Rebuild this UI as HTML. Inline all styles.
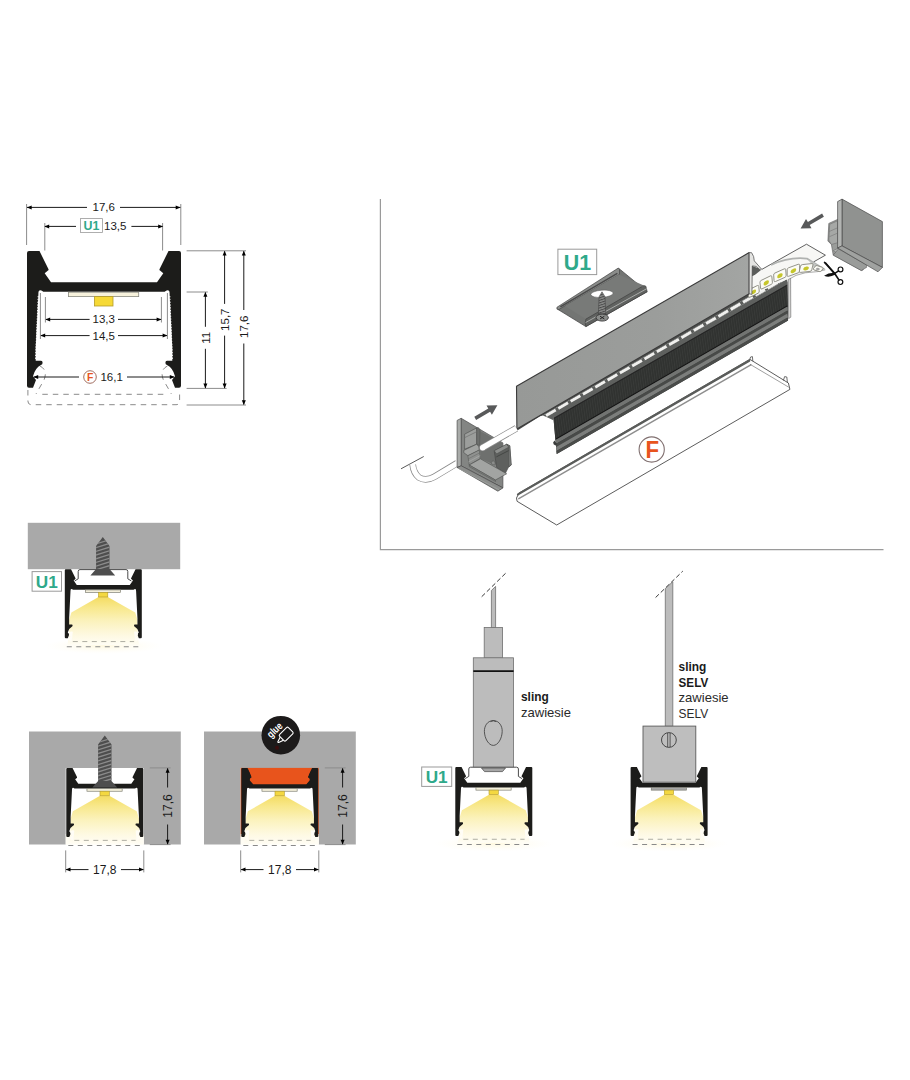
<!DOCTYPE html>
<html><head><meta charset="utf-8">
<style>
html,body{margin:0;padding:0;background:#fff;}
svg{display:block;font-family:"Liberation Sans",sans-serif;}
.d{font-size:11.5px;fill:#1a1a1a;}
.dl{stroke:#1a1a1a;stroke-width:1;fill:none;}
.ex{stroke:#8c8c8c;stroke-width:1;fill:none;}
.ds{stroke:#8a8a8a;stroke-width:1;fill:none;stroke-dasharray:5.5 5;}
.d2{font-size:12px;fill:#1a1a1a;}
.u1{font-weight:bold;fill:#2fa98a;}
</style></head><body>
<svg width="910" height="1080" viewBox="0 0 910 1080">
<defs>
<path id="prof" d="M0,2 Q0,0 2,0 L12.5,0 L21.4,18 Q21.9,19 21,19.6 L17.7,22.3 L24,31.3 L130,31.3 L136.3,22.3 L133,19.6 Q132.1,19 132.6,18 L141.5,0 L152,0 Q154,0 154,2 L154,134.7 Q154,136.7 152,136.7 L148,136.7 L145,129 L148,125.3 Q146,117 140,114 Q138.4,113.7 138.4,111.7 Q138.4,109.7 140,109.7 L145.3,109.7 L145.3,97 L142.6,43 Q142.8,39 140.5,39.2 Q139,39.5 137.7,40.7 L16.3,40.7 Q15,39.5 13.5,39.2 Q11.2,39 11.4,43 L8.7,97 L8.7,109.7 L14,109.7 Q15.6,109.7 15.6,111.7 Q15.6,113.7 14,114 Q8,117 6,125.3 L9,129 L6,136.7 L2,136.7 Q0,136.7 0,134.7 Z"/>
<path id="ah" d="M0,0 L4.8,-2 L4.8,2 Z"/>
<linearGradient id="beam" x1="0" y1="0" x2="0" y2="1">
<stop offset="0" stop-color="#f4dc62"/><stop offset="0.22" stop-color="#f8e88c"/><stop offset="0.5" stop-color="#fbf2bc"/><stop offset="0.8" stop-color="#fef9e2"/><stop offset="1" stop-color="#fffdf4"/>
</linearGradient>
<linearGradient id="plateg" x1="0" y1="0" x2="1" y2="0"><stop offset="0" stop-color="#979997"/><stop offset="0.6" stop-color="#9b9d9b"/><stop offset="1" stop-color="#a3a5a3"/></linearGradient>
<pattern id="ribs" width="2.4" height="8" patternUnits="userSpaceOnUse" patternTransform="rotate(-8)"><rect width="2.4" height="8" fill="#303230"/><rect width="0.9" height="8" fill="#393b39"/></pattern>
<pattern id="thr" width="8" height="2.4" patternUnits="userSpaceOnUse" patternTransform="rotate(-18)"><rect width="8" height="2.4" fill="#8a8c8a"/><rect width="8" height="1" fill="#4a4a4a"/></pattern>
<radialGradient id="glow"><stop offset="0" stop-color="#fff8dc" stop-opacity="0.9"/><stop offset="1" stop-color="#fffdf3" stop-opacity="0"/></radialGradient>
</defs>
<rect width="910" height="1080" fill="#fff"/>

<!-- ===== MAIN CROSS SECTION ===== -->
<g id="main">
<use href="#prof" x="27" y="251" fill="#1c1c1a"/>
<rect x="68.4" y="292.2" width="70.3" height="4.4" fill="#f7f2dc" stroke="#8a8a80" stroke-width="0.8"/>
<rect x="94.4" y="296.6" width="18.6" height="9.4" fill="#f6d936" stroke="#b39b2a" stroke-width="0.8"/>
<path d="M38.2,296 L35.5,359 M169.8,296 L172.5,359" stroke="#fff" stroke-width="1" stroke-dasharray="1.3 1.5" fill="none"/>
<!-- dashed cover -->
<path class="ds" d="M27.9,390 L27.9,401 Q27.9,404.7 31.5,404.7 L176,404.7 Q179.6,404.7 179.6,401 L179.6,390"/>
<path class="ds" d="M42.3,394.3 L166,394.3"/>
<path class="ds" d="M40,366 Q48,370 44,380 L36,394" stroke-dasharray="3.5 3"/>
<path class="ds" d="M167.4,366 Q159.4,370 163.4,380 L171.4,394" stroke-dasharray="3.5 3"/>
<!-- ext lines top -->
<path class="ex" d="M26.6,204 V245 M180.8,204 V245 M44.8,223 V250.5 M162.6,223 V250.5"/>
<path class="ex" d="M45.4,297 V322.5 M161.4,297 V322.5 M40.4,293 V339 M167.4,293 V339"/>
<!-- dims horizontal -->
<path class="dl" d="M27,207.4 H87 M120,207.4 H180.4"/>
<use href="#ah" x="26.9" y="207.4"/><use href="#ah" transform="translate(180.5,207.4) scale(-1,1)"/>
<text class="d" x="103.7" y="211.3" text-anchor="middle">17,6</text>
<path class="dl" d="M45,226.4 H76 M131.4,226.4 H162.6"/>
<use href="#ah" x="44.4" y="226.4"/><use href="#ah" transform="translate(163,226.4) scale(-1,1)"/>
<rect x="80.4" y="218.6" width="22" height="13.8" fill="#fff" stroke="#9a9a9a" stroke-width="0.8"/>
<text class="u1" x="91.4" y="230.2" font-size="12.4" text-anchor="middle">U1</text>
<text class="d" x="104" y="230.3">13,5</text>
<path class="dl" d="M46,319.4 H89.6 M118,319.4 H161"/>
<use href="#ah" x="45.4" y="319.4"/><use href="#ah" transform="translate(161.4,319.4) scale(-1,1)"/>
<text class="d" x="103.7" y="323.3" text-anchor="middle">13,3</text>
<path class="dl" d="M41,335.6 H89.6 M118,335.6 H167"/>
<use href="#ah" x="40.4" y="335.6"/><use href="#ah" transform="translate(167.4,335.6) scale(-1,1)"/>
<text class="d" x="103.7" y="339.5" text-anchor="middle">14,5</text>
<path class="dl" d="M34,377 H79 M127,377 H174"/>
<use href="#ah" x="33.4" y="377"/><use href="#ah" transform="translate(174.6,377) scale(-1,1)"/>
<circle cx="90" cy="377" r="6.3" fill="#fff" stroke="#8a4a3a" stroke-width="0.8"/>
<text x="90.1" y="380.7" font-size="10.4" font-weight="bold" fill="#e8541e" text-anchor="middle">F</text>
<text class="d" x="100.4" y="380.8">16,1</text>
<!-- right ext lines -->
<path class="ex" d="M186.6,250.8 H246 M186.6,292 H207.8 M186.6,388.4 H226.6 M186.6,405 H246"/>
<!-- vertical dims -->
<path class="dl" d="M205.4,292.5 V326.8 M205.4,348.8 V388"/>
<use href="#ah" transform="translate(205.4,292) rotate(90)"/><use href="#ah" transform="translate(205.4,388.4) rotate(-90)"/>
<text class="d" transform="translate(209.6,337.8) rotate(-90)" text-anchor="middle">11</text>
<path class="dl" d="M224.6,251.3 V303.9 M224.6,335.6 V388"/>
<use href="#ah" transform="translate(224.6,250.8) rotate(90)"/><use href="#ah" transform="translate(224.6,388.4) rotate(-90)"/>
<text class="d" transform="translate(228.8,319.7) rotate(-90)" text-anchor="middle">15,7</text>
<path class="dl" d="M243.8,251.3 V310 M243.8,343.5 V404.5"/>
<use href="#ah" transform="translate(243.8,250.8) rotate(90)"/><use href="#ah" transform="translate(243.8,405) rotate(-90)"/>
<text class="d" transform="translate(248,326.8) rotate(-90)" text-anchor="middle">17,6</text>
</g>

<!--ISO-->
<g id="iso">
<path d="M380.4,199 V549.7 H883.5" fill="none" stroke="#9a9a9a" stroke-width="1.2"/>
<polygon points="516.5,498.0 519.1,492.9 749.8,359.3 788.4,383.0 789.9,389.4 556.7,525.0 517.1,501.3" fill="#ffffff" stroke="#4a4a4a" stroke-width="0.9" stroke-linejoin="round"/>
<polyline points="518.0,494.4 749.2,360.8" fill="none" stroke="#5a5c5a" stroke-width="2.2" stroke-linecap="round" stroke-linejoin="round"/>
<polyline points="518.8,498.6 750.8,364.9" fill="none" stroke="#8e8e8e" stroke-width="1.5" stroke-linecap="round" stroke-linejoin="round"/>
<polyline points="750.4,364.5 788.4,387.0" fill="none" stroke="#777" stroke-width="0.7" stroke-linecap="round" stroke-linejoin="round"/>
<polyline points="749.8,359.3 750.6,357.0 752.4,356.6 752.8,360.8" fill="none" stroke="#4a4a4a" stroke-width="0.8" stroke-linecap="round" stroke-linejoin="round"/>
<polyline points="783.5,380.2 784.6,376.6 786.8,377.0 787.4,382.4" fill="none" stroke="#4a4a4a" stroke-width="0.8" stroke-linecap="round" stroke-linejoin="round"/>
<polygon points="553.0,412.8 787.4,279.3 788.1,320.5 556.7,454.0" fill="#3a3c3b"/>
<polygon points="553.0,412.8 787.4,279.3 787.4,284.5 553.5,418.0" fill="#5e605e"/>
<polygon points="553.5,418.0 787.4,284.5 787.4,285.9 553.6,419.4" fill="#262626"/>
<polygon points="553.6,419.4 787.4,285.9 787.8,305.3 555.3,438.8" fill="url(#ribs)"/>
<polygon points="555.3,438.8 787.4,305.3 787.8,306.5 555.5,440.0" fill="#161616"/>
<polygon points="555.5,440.0 787.4,306.5 787.9,310.5 555.8,444.0" fill="#727472"/>
<polygon points="555.8,444.0 787.4,310.5 788.0,313.5 556.1,447.0" fill="#484a48"/>
<polygon points="556.1,447.0 787.4,313.5 788.0,317.5 556.4,451.0" fill="#7c7e7c"/>
<polygon points="556.4,451.0 787.4,317.5 788.1,320.5 556.7,454.0" fill="#4a4c4a"/>
<polygon points="554.5,440.5 553.2,442.4 553.6,444.2 555.4,445.6 557.0,444.0" fill="#3a3c3b"/>
<polygon points="546.4,417.1 553.6,412.8 553.6,419.4 552.9,419.9" fill="#5e605e"/>
<polygon points="542.8,415.5 751.0,295.6 787.0,279.2 546.4,417.1" fill="#5c5e5c"/>
<path d="M546,415.5 L787,277.0" stroke="#f0f0ee" stroke-width="2.9" stroke-dasharray="11.2 3" fill="none"/>
<polygon points="516.9,428.6 749.2,293.6 751.0,295.6 542.8,415.5 540.0,416.2 517.4,430.6" fill="#4c4e4c"/>
<polygon points="751.6,265.8 759.9,268.8 761.5,273.0 751.6,276.3" fill="#5a5c5a"/>
<polygon points="751.6,277.5 762.0,269.3 806.5,244.2 825.4,255.2 813.8,261.8 824.9,269.7 818.0,271.4 805.2,272.6 796.0,275.2 790.2,278.4 787.4,282.0 787.0,279.2 751.0,295.6" fill="#f7f7f5"/>
<polyline points="762.0,269.3 806.5,244.2 825.4,255.2 813.8,261.8" fill="none" stroke="#3a3a3a" stroke-width="0.8" stroke-linecap="round" stroke-linejoin="round"/>
<polyline points="824.9,269.9 818.0,271.6 805.2,272.8 796.0,275.4 790.2,278.6" fill="none" stroke="#8a8a8a" stroke-width="0.7" stroke-linecap="round" stroke-linejoin="round"/>
<path d="M771,265 Q789,256.6 806.9,258.6 L824.6,269.4" fill="none" stroke="#b0b2b0" stroke-width="1.8" stroke-linejoin="round"/>
<path d="M808,259.6 L824.6,269.6 L816,270.6 Z" fill="#c4c6c4"/>
<g transform="translate(753.6,291.4) rotate(-26) skewX(-20)"><rect x="-5.9" y="-3.6" width="11.9" height="7.2" rx="1.4" fill="#fbfbf5" stroke="#85857a" stroke-width="0.8"/><ellipse cx="0" cy="0.5" rx="2.7" ry="1.8" fill="#c6c62c"/></g>
<g transform="translate(766.2,282.4) rotate(-26) skewX(-20)"><rect x="-6.6" y="-4.0" width="13.2" height="8.0" rx="1.4" fill="#fbfbf5" stroke="#85857a" stroke-width="0.8"/><ellipse cx="0" cy="0.5" rx="3.0" ry="2.0" fill="#c6c62c"/></g>
<g transform="translate(779.9,275.2) rotate(-24) skewX(-20)"><rect x="-6.6" y="-4.0" width="13.2" height="8.0" rx="1.4" fill="#fbfbf5" stroke="#85857a" stroke-width="0.8"/><ellipse cx="0" cy="0.5" rx="3.0" ry="2.0" fill="#c6c62c"/></g>
<g transform="translate(793.4,270.3) rotate(-20) skewX(-20)"><rect x="-6.6" y="-4.0" width="13.2" height="8.0" rx="1.4" fill="#fbfbf5" stroke="#85857a" stroke-width="0.8"/><ellipse cx="0" cy="0.5" rx="3.0" ry="2.0" fill="#c6c62c"/></g>
<g transform="translate(806.2,268.0) rotate(-6) skewX(-20)"><rect x="-6.3" y="-3.8" width="12.5" height="7.6" rx="1.4" fill="#fbfbf5" stroke="#85857a" stroke-width="0.8"/><ellipse cx="0" cy="0.5" rx="2.8" ry="1.9" fill="#c6c62c"/></g>
<g transform="translate(818.2,268.6) rotate(18) skewX(-20)"><rect x="-4.1" y="-2.5" width="8.2" height="5.0" rx="1.4" fill="#fbfbf5" stroke="#85857a" stroke-width="0.8"/><ellipse cx="0" cy="0.5" rx="1.9" ry="1.2" fill="#a4a4a4"/></g>
<polygon points="516.5,386.3 749.2,252.6 749.2,293.8 516.9,428.9" fill="url(#plateg)" stroke="#3a3a3a" stroke-width="1.1" stroke-linejoin="round"/>
<polygon points="749.2,252.6 751.6,252.7 753.6,256.5 754.3,260.9 757.1,264.0 761.5,269.1 760.2,269.9 756.0,266.4 752.3,265.9 751.9,294.4 749.2,293.8" fill="#e4e4e2" stroke="#444" stroke-width="0.7" stroke-linejoin="round"/>
<polygon points="788.2,279.5 790.6,278.4 790.8,317.2 788.6,318.6" fill="#d4d4d2" stroke="#666" stroke-width="0.6" stroke-linejoin="round"/>
<path d="M457,463.2 L434.2,476.9 Q425.8,481.6 419,477.5 Q413.5,473 412.7,464.6" fill="none" stroke="#8a8a8a" stroke-width="6.6" stroke-linecap="butt"/>
<path d="M457.6,462.9 L434.2,476.9 Q425.8,481.6 419,477.5 Q413.5,473 412.6,463.8" fill="none" stroke="#ffffff" stroke-width="5.2" stroke-linecap="butt"/>
<polyline points="401.4,468.6 423.4,456.7" fill="none" stroke="#5a5a5a" stroke-width="1.0" stroke-linecap="round" stroke-linejoin="round"/>
<polygon points="461.2,418.3 502.9,442.9 502.9,487.9 461.2,465.8" fill="#838583" stroke="#4a4a4a" stroke-width="0.7" stroke-linejoin="round"/>
<polygon points="457.1,420.4 461.2,418.3 461.2,465.8 457.1,467.5" fill="#a9aba9" stroke="#4a4a4a" stroke-width="0.7" stroke-linejoin="round"/>
<polygon points="457.1,467.5 461.2,465.8 502.9,487.9 497.9,491.2" fill="#8c8e8c" stroke="#4a4a4a" stroke-width="0.7" stroke-linejoin="round"/>
<polyline points="458.3,468.3 498.8,489.6" fill="none" stroke="#a4a6a4" stroke-width="0.7" stroke-linecap="round" stroke-linejoin="round"/>
<polygon points="479.6,430.8 502.5,443.3 502.5,465.0 493.3,464.2 480.8,458.8 479.6,445.8" fill="#6e706e"/>
<polygon points="464.6,434.2 476.7,427.9 476.7,444.2 464.6,449.2" fill="#9c9e9c" stroke="#4c4e4c" stroke-width="0.6" stroke-linejoin="round"/>
<polygon points="476.7,427.9 478.3,427.5 480.0,430.0 479.6,445.8 476.7,444.2" fill="#6c6e6c" stroke="#4c4e4c" stroke-width="0.5" stroke-linejoin="round"/>
<polyline points="465.0,437.5 476.5,431.8" fill="none" stroke="#6e706e" stroke-width="0.7" stroke-linecap="round" stroke-linejoin="round"/>
<polygon points="463.8,450.4 476.7,444.2 478.8,446.7 479.3,450.0 467.9,455.7 463.8,452.7" fill="#a2a4a2" stroke="#4c4e4c" stroke-width="0.6" stroke-linejoin="round"/>
<polygon points="467.9,455.7 479.3,450.0 480.2,458.5 469.2,465.0" fill="#8f918f" stroke="#4c4e4c" stroke-width="0.5" stroke-linejoin="round"/>
<polyline points="468.3,458.8 479.7,452.9" fill="none" stroke="#6a6c6a" stroke-width="0.6" stroke-linecap="round" stroke-linejoin="round"/>
<polyline points="468.8,461.7 479.8,455.8" fill="none" stroke="#b0b2b0" stroke-width="0.6" stroke-linecap="round" stroke-linejoin="round"/>
<polygon points="494.2,450.8 506.7,444.2 509.8,445.8 511.2,465.0 508.3,467.5 505.4,473.3 496.7,467.5" fill="#5e605e" stroke="#444" stroke-width="0.6" stroke-linejoin="round"/>
<polygon points="494.2,450.8 506.7,444.2 508.8,447.1 496.7,453.8" fill="#8c8e8c" stroke="#4c4e4c" stroke-width="0.5" stroke-linejoin="round"/>
<polygon points="506.7,444.2 509.8,445.8 511.2,465.0 508.8,466.7 508.8,447.1" fill="#7a7c7a" stroke="#4c4e4c" stroke-width="0.5" stroke-linejoin="round"/>
<polyline points="496.7,456.7 508.3,450.8" fill="none" stroke="#3e403e" stroke-width="0.8" stroke-linecap="round" stroke-linejoin="round"/>
<polygon points="491.2,462.1 493.3,460.8 495.0,462.5 495.0,465.0 491.7,464.2" fill="#8a8c8a" stroke="#4c4e4c" stroke-width="0.4" stroke-linejoin="round"/>
<polygon points="469.2,465.0 480.4,458.8 506.7,473.8 495.4,480.0" fill="#a2a4a2" stroke="#4c4e4c" stroke-width="0.6" stroke-linejoin="round"/>
<polygon points="469.2,465.0 495.4,480.0 495.7,481.5 469.3,466.7" fill="#7c7e7c" stroke="#4c4e4c" stroke-width="0.4" stroke-linejoin="round"/>
<path d="M482.6,447.7 L516.4,428.3" stroke="#8a8a8a" stroke-width="6.8" stroke-linecap="butt" fill="none"/>
<circle cx="482.6" cy="447.7" r="3.4" fill="#8a8a8a"/>
<path d="M482.6,447.7 L516.4,428.3" stroke="#ffffff" stroke-width="5.4" stroke-linecap="butt" fill="none"/>
<circle cx="482.6" cy="447.7" r="2.7" fill="#ffffff"/>
<polygon points="476.1,419.9 490.1,411.7 491.9,414.8 497.4,405.3 486.5,405.4 488.3,408.5 474.3,416.7" fill="#58595a"/>
<polygon points="828.8,223.4 838.5,219.0 838.5,248.0 863.1,262.1 863.1,270.0 861.3,270.5 833.2,255.1 831.4,244.5 827.9,241.0" fill="#9a9c9a" stroke="#555" stroke-width="0.6" stroke-linejoin="round"/>
<polygon points="833.2,250.7 838.5,248.0 863.1,262.1 861.3,267.4" fill="#b4b6b4" stroke="#666" stroke-width="0.5" stroke-linejoin="round"/>
<polygon points="833.2,255.1 861.3,270.5 866.6,267.4 866.6,264.7 838.5,248.9" fill="#9a9c9a" stroke="#555" stroke-width="0.5" stroke-linejoin="round"/>
<polygon points="829.7,224.3 837.6,220.8 837.6,242.7 831.4,244.5 828.8,240.1" fill="#a6a8a6" stroke="#666" stroke-width="0.5" stroke-linejoin="round"/>
<polyline points="829.7,231.3 837.6,227.8" fill="none" stroke="#777" stroke-width="0.6" stroke-linecap="round" stroke-linejoin="round"/>
<polyline points="829.7,236.6 837.6,233.1" fill="none" stroke="#777" stroke-width="0.6" stroke-linecap="round" stroke-linejoin="round"/>
<polygon points="842.0,199.1 882.4,221.6 882.4,267.4 842.0,245.9" fill="#909290" stroke="#4a4a4a" stroke-width="0.7" stroke-linejoin="round"/>
<polygon points="837.6,201.6 842.0,199.1 842.0,245.9 837.6,248.0" fill="#b2b4b2" stroke="#4a4a4a" stroke-width="0.7" stroke-linejoin="round"/>
<polygon points="837.6,248.0 842.0,245.9 882.4,267.4 878.0,271.8" fill="#a0a2a0" stroke="#4a4a4a" stroke-width="0.7" stroke-linejoin="round"/>
<polygon points="822.1,213.6 807.9,222.0 806.0,218.9 800.6,228.4 811.5,228.2 809.7,225.1 823.9,216.8" fill="#58595a"/>
<g stroke="#111" fill="none" stroke-linecap="round"><path d="M824.6,262.5 L835.2,274.2 L838.9,279.9" stroke-width="1.7"/><path d="M834.4,273.6 L838.6,270.9" stroke-width="1.5"/><circle cx="840.5" cy="269.4" r="2.4" stroke-width="1.2"/><circle cx="840.4" cy="282.1" r="2.4" stroke-width="1.2"/></g>
<path d="M824.1,275.7 Q828.6,272.4 835,272.8 L835.6,274.6 Q829,278 824.1,275.7 Z" fill="#111"/>
<path d="M824.3,262.1 L826.2,262.6 L835.6,273.2 L834.2,274.6 Z" fill="#111"/>
<polygon points="618.8,268.4 647.2,291.7 585.9,326.6 556.9,308.8" fill="#737573" stroke="#3a3a3a" stroke-width="0.7" stroke-linejoin="round"/>
<polygon points="556.9,307.3 618.2,268.1 619.5,269.3 619.5,274.3 564.8,305.9 558.8,309.6 556.9,308.8" fill="#8a8c8a" stroke="#3a3a3a" stroke-width="0.6" stroke-linejoin="round"/>
<polyline points="560.8,306.6 616.9,273.6" fill="none" stroke="#4a4a4a" stroke-width="1.4" stroke-linecap="round" stroke-linejoin="round"/>
<polygon points="564.8,305.9 618.8,274.6 643.9,285.5 585.9,319.1" fill="#787a78"/>
<polygon points="585.9,319.1 643.9,285.5 645.9,286.2 647.2,291.7 585.9,326.6 585.2,323.1" fill="#606260" stroke="#3a3a3a" stroke-width="0.6" stroke-linejoin="round"/>
<polyline points="585.9,322.4 646.5,288.8" fill="none" stroke="#a8aaa8" stroke-width="1.0" stroke-linecap="round" stroke-linejoin="round"/>
<ellipse cx="602" cy="293.8" rx="11.2" ry="3.6" fill="#fff" stroke="#555" stroke-width="0.5" transform="rotate(-4 602 293.8)"/>
<polygon points="602.0,291.8 605.0,296.7 605.7,313.8 598.4,313.8 599.1,296.7" fill="url(#thr)" stroke="#3a3a3a" stroke-width="0.5" stroke-linejoin="round"/>
<ellipse cx="602.2" cy="317.6" rx="6.2" ry="3.5" fill="#8a8c8a" stroke="#2a2a2a" stroke-width="0.8"/>
<path d="M600,316.2 L604.4,319 M604.4,316.2 L600,319" stroke="#222" stroke-width="0.9" fill="none"/>
<rect x="557.9" y="249.2" width="38.8" height="25.4" fill="#fff" stroke="#9a9a9a" stroke-width="1"/>
<text class="u1" x="577.5" y="270.2" font-size="21.4" text-anchor="middle">U1</text>
<circle cx="651.7" cy="449.5" r="12.6" fill="#fff" stroke="#807070" stroke-width="1.1"/>
<text x="652.4" y="458.0" font-size="24.4" font-weight="bold" fill="#e8541e" text-anchor="middle" textLength="13.6" lengthAdjust="spacingAndGlyphs">F</text>
</g>
<!--/ISO-->
<!--SMALL-->
<g id="small">
<rect x="27.8" y="522.8" width="152.4" height="46.4" fill="#a9a9a9"/>
<g transform="translate(64.8,569.2) scale(0.5,0.505)">
<ellipse cx="77" cy="152" rx="120" ry="16" fill="url(#glow)"/>
<polygon points="67.4,55 86,55 140.8,85.8 145.3,100 146,136.7 149,150 5,150 8,136.7 8.7,100 13.2,85.8" fill="url(#beam)"/>
<use href="#prof" fill="#1c1c1a"/>
<rect x="41.3" y="41" width="70.4" height="5" fill="#f4f0dc" stroke="#77776c" stroke-width="1.3"/>
<rect x="67.4" y="46" width="18.6" height="9" fill="#f4d840" stroke="#b39b2a" stroke-width="1.2"/>
<path d="M16,124 q-7,-2 -8,4 q0,4 4,5 q-5,2 -4,7 q1,3 6,3 M138.6,124 q7,-2 8,4 q0,4 -4,5 q5,2 4,7 q-1,3 -6,3" fill="#fffdf6" stroke="none"/>
<path d="M16,143.3 L138.6,143.3" fill="none" stroke="#9a9a90" stroke-width="1.6" stroke-dasharray="10 9"/>
<path d="M4,153.5 L150.6,153.5" fill="none" stroke="#8a8a8a" stroke-width="2" stroke-dasharray="10 9"/>
</g>
<path d="M74.6,581.0 l3.6,-2.2 v-7.4 q0,-1.8 1.8,-1.8 h46 q1.8,0 1.8,1.8 v7.4 l3.6,2.2" fill="#fff" stroke="#4a4a4a" stroke-width="1"/>
<path d="M102.8,537 L109.5,546 L109.5,569.1 L115.2,575.6 L90.39999999999999,575.6 L96.1,569.1 L96.1,546 Z" fill="#4e4e4e"/>
<clipPath id="sc102_537"><path d="M102.8,537 L109.5,546 L109.5,569.1 L96.1,569.1 L96.1,546 Z"/></clipPath>
<g clip-path="url(#sc102_537)" stroke="#8c8c8c" stroke-width="1.3"><line x1="95.1" y1="544.2" x2="110.5" y2="539.4"/><line x1="95.1" y1="547.9000000000001" x2="110.5" y2="543.1"/><line x1="95.1" y1="551.6000000000001" x2="110.5" y2="546.8000000000001"/><line x1="95.1" y1="555.3000000000002" x2="110.5" y2="550.5000000000001"/><line x1="95.1" y1="559.0000000000002" x2="110.5" y2="554.2000000000002"/><line x1="95.1" y1="562.7000000000003" x2="110.5" y2="557.9000000000002"/><line x1="95.1" y1="566.4000000000003" x2="110.5" y2="561.6000000000003"/><line x1="95.1" y1="570.1000000000004" x2="110.5" y2="565.3000000000003"/><line x1="95.1" y1="573.8000000000004" x2="110.5" y2="569.0000000000003"/></g>
<rect x="32.1" y="571.6" width="29.4" height="19.6" fill="#fff" stroke="#9a9a9a" stroke-width="1"/><text class="u1" x="46.8" y="587.7" font-size="17.2" text-anchor="middle">U1</text>
<path d="M29,731.4 H180.8 V844.6 H143.8 V767.9 H65.7 V844.6 H29 Z" fill="#a9a9a9"/>
<rect x="65.7" y="834" width="78.1" height="10.6" fill="#fffdf4"/>
<g transform="translate(66.3,768.0) scale(0.5,0.505)">
<polygon points="67.4,55 86,55 140.8,85.8 145.3,100 146,136.7 149,150 5,150 8,136.7 8.7,100 13.2,85.8" fill="url(#beam)"/>
<use href="#prof" fill="#1c1c1a"/>
<rect x="41.3" y="41" width="70.4" height="5" fill="#f4f0dc" stroke="#77776c" stroke-width="1.3"/>
<rect x="67.4" y="46" width="18.6" height="9" fill="#f4d840" stroke="#b39b2a" stroke-width="1.2"/>
<path d="M16,124 q-7,-2 -8,4 q0,4 4,5 q-5,2 -4,7 q1,3 6,3 M138.6,124 q7,-2 8,4 q0,4 -4,5 q5,2 4,7 q-1,3 -6,3" fill="#fffdf6" stroke="none"/>
<path d="M16,143.3 L138.6,143.3" fill="none" stroke="#9a9a90" stroke-width="1.6" stroke-dasharray="10 9"/>
<path d="M4,153.5 L150.6,153.5" fill="none" stroke="#8a8a8a" stroke-width="2" stroke-dasharray="10 9"/>
</g>
<path d="M104.8,735.5 L111.5,744.5 L111.5,781.0 L117.2,787.5 L92.39999999999999,787.5 L98.1,781.0 L98.1,744.5 Z" fill="#4e4e4e"/>
<clipPath id="sc104_735"><path d="M104.8,735.5 L111.5,744.5 L111.5,781.0 L98.1,781.0 L98.1,744.5 Z"/></clipPath>
<g clip-path="url(#sc104_735)" stroke="#8c8c8c" stroke-width="1.3"><line x1="97.1" y1="742.7" x2="112.5" y2="737.9"/><line x1="97.1" y1="746.4000000000001" x2="112.5" y2="741.6"/><line x1="97.1" y1="750.1000000000001" x2="112.5" y2="745.3000000000001"/><line x1="97.1" y1="753.8000000000002" x2="112.5" y2="749.0000000000001"/><line x1="97.1" y1="757.5000000000002" x2="112.5" y2="752.7000000000002"/><line x1="97.1" y1="761.2000000000003" x2="112.5" y2="756.4000000000002"/><line x1="97.1" y1="764.9000000000003" x2="112.5" y2="760.1000000000003"/><line x1="97.1" y1="768.6000000000004" x2="112.5" y2="763.8000000000003"/><line x1="97.1" y1="772.3000000000004" x2="112.5" y2="767.5000000000003"/><line x1="97.1" y1="776.0000000000005" x2="112.5" y2="771.2000000000004"/><line x1="97.1" y1="779.7000000000005" x2="112.5" y2="774.9000000000004"/><line x1="97.1" y1="783.4000000000005" x2="112.5" y2="778.6000000000005"/><line x1="97.1" y1="787.1000000000006" x2="112.5" y2="782.3000000000005"/></g>
<path class="ex" d="M149.8,767.9 H170.6 M149.8,844.6 H170.6 M65.7,850.4 V872.4 M143.8,850.4 V872.4"/>
<path class="dl" d="M167.6,768.4 V787.5 M167.6,824.5 V844.1 M66.2,869.6 H88.5 M121,869.6 H143.3"/>
<use href="#ah" transform="translate(167.6,767.9) rotate(90)"/><use href="#ah" transform="translate(167.6,844.6) rotate(-90)"/>
<use href="#ah" x="65.7" y="869.6"/><use href="#ah" transform="translate(143.8,869.6) scale(-1,1)"/>
<text class="d2" transform="translate(172.0,806) rotate(-90)" text-anchor="middle">17,6</text>
<text class="d2" x="104.8" y="873.9" text-anchor="middle">17,8</text>
<path d="M204,731.4 H355.8 V844.6 H318.8 V767.9 H240.7 V844.6 H204 Z" fill="#a9a9a9"/>
<rect x="240.7" y="767.9" width="78.1" height="68.6" fill="#e8541c"/>
<rect x="242.2" y="787.5" width="75.1" height="50" fill="#fff"/>
<rect x="240.7" y="834" width="78.1" height="10.6" fill="#fffdf4"/>
<g transform="translate(241.3,768.0) scale(0.5,0.505)">
<polygon points="67.4,55 86,55 140.8,85.8 145.3,100 146,136.7 149,150 5,150 8,136.7 8.7,100 13.2,85.8" fill="url(#beam)"/>
<use href="#prof" fill="#1c1c1a"/>
<rect x="41.3" y="41" width="70.4" height="5" fill="#f4f0dc" stroke="#77776c" stroke-width="1.3"/>
<rect x="67.4" y="46" width="18.6" height="9" fill="#f4d840" stroke="#b39b2a" stroke-width="1.2"/>
<path d="M16,124 q-7,-2 -8,4 q0,4 4,5 q-5,2 -4,7 q1,3 6,3 M138.6,124 q7,-2 8,4 q0,4 -4,5 q5,2 4,7 q-1,3 -6,3" fill="#fffdf6" stroke="none"/>
<path d="M16,143.3 L138.6,143.3" fill="none" stroke="#9a9a90" stroke-width="1.6" stroke-dasharray="10 9"/>
<path d="M4,153.5 L150.6,153.5" fill="none" stroke="#8a8a8a" stroke-width="2" stroke-dasharray="10 9"/>
</g>
<path d="M248.6,768 L251.6,777.3 L249.9,778.8 L249.9,780.4 L253.2,784.2 L306.3,784.2 L309.6,780.4 L309.6,778.8 L307.9,777.3 L310.9,768 Z" fill="#e8541c"/>
<path class="ex" d="M324.8,767.9 H345.6 M324.8,844.6 H345.6 M240.7,850.4 V872.4 M318.8,850.4 V872.4"/>
<path class="dl" d="M342.6,768.4 V787.5 M342.6,824.5 V844.1 M241.2,869.6 H263.5 M296,869.6 H318.3"/>
<use href="#ah" transform="translate(342.6,767.9) rotate(90)"/><use href="#ah" transform="translate(342.6,844.6) rotate(-90)"/>
<use href="#ah" x="240.7" y="869.6"/><use href="#ah" transform="translate(318.8,869.6) scale(-1,1)"/>
<text class="d2" transform="translate(347.0,806) rotate(-90)" text-anchor="middle">17,6</text>
<text class="d2" x="279.8" y="873.9" text-anchor="middle">17,8</text>
<circle cx="280.8" cy="735.2" r="19.3" fill="#1c1a1a"/>
<text transform="translate(277.2,732.6) rotate(-44)" font-size="10.6" font-weight="bold" fill="#fff" text-anchor="middle" textLength="17" lengthAdjust="spacingAndGlyphs">glue</text>
<g transform="translate(286.2,734.2) rotate(45)" fill="none" stroke="#fff" stroke-width="1.1" stroke-linejoin="round"><rect x="-4.4" y="-6.2" width="8.8" height="12.4" rx="1.4"/><path d="M-2.2,6.2 L-0.6,11.2 Q0,12 0.6,11.2 L2.2,6.2"/></g>
<circle cx="277" cy="747.8" r="2" fill="#3a0e0e"/>
</g>
<!--/SMALL-->
<!--SLING-->
<g id="sling">
<g transform="translate(455.3,766.9) scale(0.5,0.505)">
<ellipse cx="77" cy="152" rx="120" ry="16" fill="url(#glow)"/>
<polygon points="67.4,55 86,55 140.8,85.8 145.3,100 146,136.7 149,150 5,150 8,136.7 8.7,100 13.2,85.8" fill="url(#beam)"/>
<use href="#prof" fill="#1c1c1a"/>
<rect x="41.3" y="41" width="70.4" height="5" fill="#f4f0dc" stroke="#77776c" stroke-width="1.3"/>
<rect x="67.4" y="46" width="18.6" height="9" fill="#f4d840" stroke="#b39b2a" stroke-width="1.2"/>
<path d="M16,124 q-7,-2 -8,4 q0,4 4,5 q-5,2 -4,7 q1,3 6,3 M138.6,124 q7,-2 8,4 q0,4 -4,5 q5,2 4,7 q-1,3 -6,3" fill="#fffdf6" stroke="none"/>
<path d="M16,143.3 L138.6,143.3" fill="none" stroke="#9a9a90" stroke-width="1.6" stroke-dasharray="10 9"/>
<path d="M4,153.5 L150.6,153.5" fill="none" stroke="#8a8a8a" stroke-width="2" stroke-dasharray="10 9"/>
</g>
<path d="M481.7,596.7 L507.2,571.7" stroke="#3a3a3a" stroke-width="1" stroke-dasharray="4.6 2.6" fill="none"/>
<path d="M491.4,590.5 L495.6,586.4 L495.6,627.8 L491.4,627.8 Z" fill="#bcbcbc" stroke="#6e6e6e" stroke-width="0.8"/>
<rect x="484.2" y="627.5" width="18.3" height="30.6" fill="#bcbcbc" stroke="#6e6e6e" stroke-width="0.8"/>
<rect x="473.3" y="657.8" width="40.3" height="109.7" fill="#bcbcbc" stroke="#6e6e6e" stroke-width="0.8"/>
<path d="M473.3,671.1 H513.6" stroke="#111" stroke-width="1.6"/>
<path d="M493.3,720.6 C499.5,720.6 502.4,726.5 502.2,731.5 C502,738.5 498,745.4 493.3,745.4 C488.6,745.4 484.6,738.5 484.4,731.5 C484.2,726.5 487.1,720.6 493.3,720.6 Z" fill="none" stroke="#3a3a3a" stroke-width="0.8"/>
<path d="M490.5,721.6 Q493.3,719.8 496.1,721.6" fill="none" stroke="#3a3a3a" stroke-width="0.8"/>
<path d="M465.2,778.6 l3.6,-2.2 v-7.4 q0,-1.8 1.8,-1.8 h46 q1.8,0 1.8,1.8 v7.4 l3.6,2.2" fill="#fff" stroke="#4a4a4a" stroke-width="1"/>
<path d="M481.5,768 L484.5,771.6 L502.5,771.6 L505.5,768 Z" fill="#a6a6a6" stroke="#444" stroke-width="0.7"/>
<rect x="421.7" y="767" width="30" height="19.4" fill="#fff" stroke="#9a9a9a" stroke-width="1"/><text class="u1" x="436.7" y="783.0" font-size="17.2" text-anchor="middle">U1</text>
<text x="521" y="701.2" font-size="13" font-weight="bold" fill="#1a1a1a" textLength="27.8" lengthAdjust="spacingAndGlyphs">sling</text>
<text x="521" y="717.2" font-size="13" fill="#2a2a2a" textLength="50" lengthAdjust="spacingAndGlyphs">zawiesie</text>
<g transform="translate(630.6,766.9) scale(0.5,0.505)">
<ellipse cx="77" cy="152" rx="120" ry="16" fill="url(#glow)"/>
<polygon points="67.4,55 86,55 140.8,85.8 145.3,100 146,136.7 149,150 5,150 8,136.7 8.7,100 13.2,85.8" fill="url(#beam)"/>
<use href="#prof" fill="#1c1c1a"/>
<rect x="41.3" y="41" width="70.4" height="5" fill="#a8a8a8" stroke="#77776c" stroke-width="1.3"/>
<rect x="67.4" y="46" width="18.6" height="9" fill="#f4d840" stroke="#b39b2a" stroke-width="1.2"/>
<path d="M16,124 q-7,-2 -8,4 q0,4 4,5 q-5,2 -4,7 q1,3 6,3 M138.6,124 q7,-2 8,4 q0,4 -4,5 q5,2 4,7 q-1,3 -6,3" fill="#fffdf6" stroke="none"/>
<path d="M16,143.3 L138.6,143.3" fill="none" stroke="#9a9a90" stroke-width="1.6" stroke-dasharray="10 9"/>
<path d="M4,153.5 L150.6,153.5" fill="none" stroke="#8a8a8a" stroke-width="2" stroke-dasharray="10 9"/>
</g>
<path d="M655.6,597.5 L682.8,571.1" stroke="#3a3a3a" stroke-width="1" stroke-dasharray="4.6 2.6" fill="none"/>
<path d="M665.3,588.6 L672.8,581.7 L672.8,726.4 L665.3,726.4 Z" fill="#bcbcbc" stroke="#6e6e6e" stroke-width="0.8"/>
<rect x="643" y="726.1" width="52.8" height="56.1" fill="#bebebe" stroke="#5a5a5a" stroke-width="0.9"/>
<circle cx="668.9" cy="740" r="7.4" fill="#bebebe" stroke="#3a3a3a" stroke-width="0.9"/>
<path d="M667.7,733 V747 M670.1,733 V747" stroke="#3a3a3a" stroke-width="0.8"/>
<text x="678.6" y="671.2" font-size="13" font-weight="bold" fill="#1a1a1a" textLength="27.8" lengthAdjust="spacingAndGlyphs">sling</text>
<text x="678.6" y="687.0" font-size="13" font-weight="bold" fill="#1a1a1a" textLength="29.6" lengthAdjust="spacingAndGlyphs">SELV</text>
<text x="678.6" y="702.4" font-size="13" fill="#2a2a2a" textLength="50" lengthAdjust="spacingAndGlyphs">zawiesie</text>
<text x="678.6" y="717.8" font-size="13" fill="#2a2a2a" textLength="29.6" lengthAdjust="spacingAndGlyphs">SELV</text>
</g>
<!--/SLING-->
</svg>
</body></html>
